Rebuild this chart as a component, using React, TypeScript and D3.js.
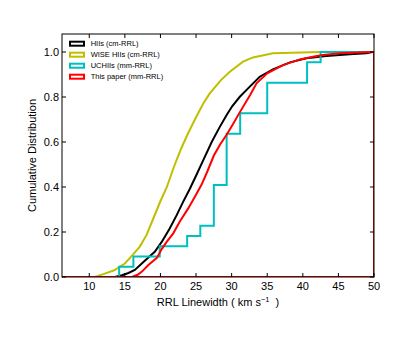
import React from 'react';
import * as d3 from 'd3';

// cumulative distributions: [linewidth km/s, fraction]
const hiiCm: [number, number][] = [
  [13.6, 0], [14.6, 0.008], [15.5, 0.018], [16.4, 0.031], [17.8, 0.072], [19.2, 0.112],
  [20.2, 0.157], [21.3, 0.216], [22.3, 0.276], [23.2, 0.335], [24.1, 0.39], [25.0, 0.45],
  [26.1, 0.525], [27.2, 0.6], [28.3, 0.665], [29.3, 0.72], [30.1, 0.76], [31.15, 0.801],
  [32.55, 0.846], [33.95, 0.89], [35.8, 0.923], [38.2, 0.954], [40.5, 0.972], [43.3, 0.982],
  [46.6, 0.99], [48.9, 0.994], [49.8, 1.0],
];

const wiseHii: [number, number][] = [
  [10.8, 0], [12.0, 0.013], [13.5, 0.03], [15.0, 0.06], [16.1, 0.098], [17.1, 0.135],
  [18.05, 0.187], [19.0, 0.26], [19.9, 0.33], [20.9, 0.4], [21.9, 0.49], [22.9, 0.57],
  [23.9, 0.64], [25.0, 0.71], [26.0, 0.77], [26.9, 0.815], [28.5, 0.875], [29.75, 0.912],
  [31.6, 0.957], [33.0, 0.976], [35.8, 0.994], [42.4, 1.0],
];

// UCHII linewidths (22 sources), drawn as an empirical step CDF
const uchiiMm = [
  14.2, 16.2, 19.9, 23.75, 25.6, 27.5, 27.5, 27.5, 27.5, 29.3, 29.3, 29.3, 29.3, 29.3,
  31.2, 31.2, 35.0, 35.0, 35.0, 40.6, 40.6, 42.5,
];

const thisPaper: [number, number][] = [
  [16.0, 0], [16.8, 0.01], [17.4, 0.024], [18.3, 0.053], [19.5, 0.085], [20.2, 0.125],
  [20.9, 0.157], [21.8, 0.194], [22.7, 0.246], [23.9, 0.305], [24.9, 0.36], [25.8, 0.412],
  [26.6, 0.47], [27.5, 0.54], [28.4, 0.59], [29.3, 0.632], [30.2, 0.68], [31.2, 0.735],
  [32.6, 0.809], [33.5, 0.861], [35.0, 0.905], [37.2, 0.942], [39.6, 0.967], [41.4, 0.979],
  [42.8, 0.987], [45.2, 0.994], [47.0, 0.997], [49.5, 1.0],
];

const xTicks = [10, 15, 20, 25, 30, 35, 40, 45, 50];
const yTicks = [0, 0.2, 0.4, 0.6, 0.8, 1.0];

const legendLabels = ['HIIs (cm-RRL)', 'WISE HIIs (cm-RRL)', 'UCHIIs (mm-RRL)', 'This paper (mm-RRL)'];
const colors = ['#000000', '#bfbf00', '#00bfbf', '#ff0000'];

const width = 415;
const height = 348;
const margin = { top: 34, right: 41, bottom: 71, left: 62 };
const font = '"Liberation Sans", Arial, Helvetica, sans-serif';

export default function App() {
  const x = d3.scaleLinear().domain([6.17, 50]).range([margin.left, width - margin.right]);
  const y = d3.scaleLinear().domain([0, 1.08]).range([height - margin.bottom, margin.top]);
  const [x0, x1] = x.domain();

  const ucSorted = uchiiMm.slice().sort(d3.ascending);
  const ucCdf: [number, number][] = ucSorted.map((v, i) => [v, (i + 1) / ucSorted.length]);

  // close each outline like a step histogram: run along the bottom, drop at the right edge
  const closed = (pts: [number, number][]) => [
    [x0, 0] as [number, number],
    ...pts,
    [x1, pts[pts.length - 1][1]] as [number, number],
    [x1, 0] as [number, number],
    [x0, 0] as [number, number],
  ];

  const line = d3.line<[number, number]>().x(d => x(d[0])).y(d => y(d[1]));
  const stepLine = d3.line<[number, number]>().x(d => x(d[0])).y(d => y(d[1])).curve(d3.curveStepAfter);

  const paths = [
    line(closed(hiiCm)),
    line(closed(wiseHii)),
    stepLine(closed(ucCdf)),
    line(closed(thisPaper)),
  ];

  const left = margin.left;
  const right = width - margin.right;
  const top = margin.top;
  const bottom = height - margin.bottom;
  const tick = 4;

  return (
    <svg width={width} height={height} style={{ position: 'absolute', left: 0, top: 0, background: '#fff' }}
      fontFamily={font}>
      <defs>
        <clipPath id="plot">
          <rect x={left} y={top} width={right - left} height={bottom - top} />
        </clipPath>
      </defs>

      <g clipPath="url(#plot)">
        {paths.map((p, i) => (
          <path key={i} d={p ?? ''} fill="none" stroke={colors[i]} strokeWidth={2} strokeLinejoin="miter" />
        ))}
      </g>

      {/* frame */}
      <rect x={left} y={top} width={right - left} height={bottom - top} fill="none" stroke="#000" strokeWidth={1} />

      {/* x ticks, inward on bottom and top */}
      {xTicks.map(t => (
        <g key={'x' + t}>
          <line x1={x(t)} x2={x(t)} y1={bottom} y2={bottom - tick} stroke="#000" />
          <line x1={x(t)} x2={x(t)} y1={top} y2={top + tick} stroke="#000" />
          <text x={x(t)} y={bottom + 13} textAnchor="middle" fontSize={11}>{t}</text>
        </g>
      ))}

      {/* y ticks, inward on left and right */}
      {yTicks.map(t => (
        <g key={'y' + t}>
          <line x1={left} x2={left + tick} y1={y(t)} y2={y(t)} stroke="#000" />
          <line x1={right} x2={right - tick} y1={y(t)} y2={y(t)} stroke="#000" />
          <text x={left - 3} y={y(t)} dy="0.36em" textAnchor="end" fontSize={11}>{t.toFixed(1)}</text>
        </g>
      ))}

      <text x={(left + right) / 2} y={bottom + 29} textAnchor="middle" fontSize={11}>
        RRL Linewidth ( km s<tspan dy={-4} fontSize={7.5}>−1</tspan><tspan dy={4}>{'\u00a0\u00a0)'}</tspan>
      </text>
      <text transform={`translate(36,${(top + bottom) / 2}) rotate(-90)`} textAnchor="middle" fontSize={11}>
        Cumulative Distribution
      </text>

      {/* legend */}
      {legendLabels.map((lab, i) => (
        <g key={lab} transform={`translate(${left + 8},${top + 9.7 + i * 11})`}>
          <rect x={0} y={-2} width={14} height={4} fill="#fff" stroke={colors[i]} strokeWidth={2} />
          <text x={20.7} y={0} dy="0.35em" fontSize={7.5}>{lab}</text>
        </g>
      ))}
    </svg>
  );
}
